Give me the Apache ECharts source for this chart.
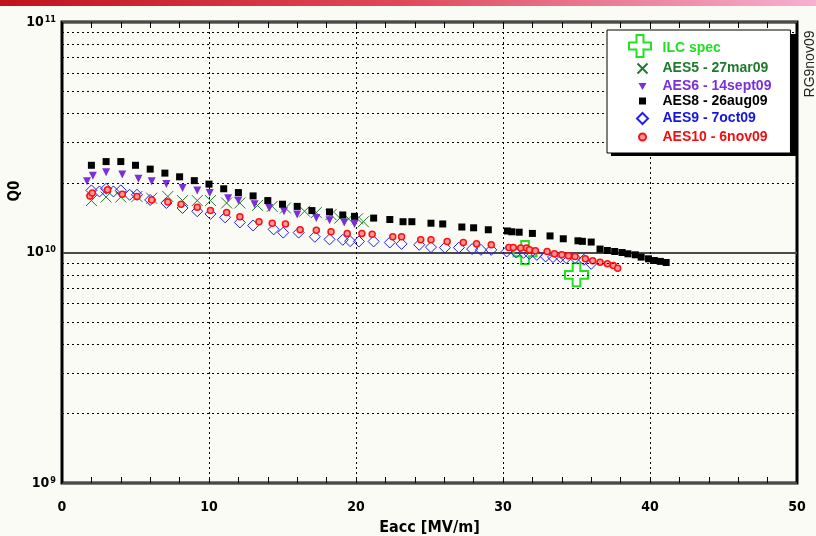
<!DOCTYPE html>
<html><head><meta charset="utf-8">
<script src="https://cdn.jsdelivr.net/npm/echarts@6/dist/echarts.min.js"></script>
<style>html,body{margin:0;padding:0;background:#fbfbf6}#c{width:816px;height:536px}</style>
</head><body><div id="c"></div>
<script>
// ---- data (Q0 values in units of 1e10) ----
const UNIT = 1e10;
const ilcE = [31.5, 35.0];
const ilcQ = [1.0, 0.8];

const aes5E = [2.0,3.0,4.0,5.1,6.1,7.2,8.2,9.2,10.1,11.2,12.1,13.3,14.3,15.2,16.5,17.3,18.3,18.9,19.5,20.1,20.5];
const aes5Q = [1.68,1.74,1.74,1.75,1.72,1.75,1.68,1.68,1.68,1.64,1.64,1.60,1.585,1.56,1.51,1.49,1.46,1.41,1.40,1.40,1.36];

const aes6E = [1.7,2.1,3.0,4.1,5.2,6.1,7.1,8.2,9.2,10.05,11.3,12.0,13.1,14.1,15.1,16.0,17.3,18.2,19.2,19.9];
const aes6Q = [2.04,2.15,2.23,2.18,2.09,2.04,1.98,1.905,1.86,1.81,1.72,1.68,1.62,1.56,1.51,1.46,1.41,1.38,1.35,1.33];

const aes8E = [2,3,4,5,6,7,8,9,10,11,12,13,14,15,16,17,18.2,19.1,19.9,21.2,22.3,23.2,23.8,25.1,25.9,27.2,28.0,29.0,30.3,30.6,31.1,32.0,33.2,34.1,35.1,35.4,36.0,36.6,37.1,37.6,38.1,38.5,39.0,39.4,39.9,40.3,40.7,41.1];
const aes8Q = [2.39,2.48,2.48,2.39,2.30,2.21,2.13,2.05,1.98,1.89,1.82,1.76,1.68,1.62,1.585,1.52,1.50,1.455,1.435,1.41,1.39,1.36,1.36,1.34,1.33,1.29,1.28,1.255,1.24,1.23,1.225,1.21,1.18,1.147,1.124,1.118,1.11,1.035,1.02,1.01,1.0,0.987,0.977,0.955,0.939,0.923,0.915,0.905];

const aes9E = [2.0,2.55,3.0,3.5,4.0,4.6,5.1,6.0,7.1,8.2,9.2,10.1,11.1,12.1,13.0,14.4,15.05,16.1,17.2,18.2,19.1,19.6,20.2,21.2,22.3,23.1,24.3,25.1,26.05,27.0,27.9,28.5,29.2,30.25,30.9,31.4,31.8,32.3,32.9,33.4,33.9,34.3,34.9,35.5,36.0];
const aes9Q = [1.86,1.84,1.89,1.84,1.86,1.78,1.78,1.69,1.64,1.56,1.51,1.47,1.42,1.35,1.31,1.26,1.22,1.22,1.17,1.14,1.135,1.12,1.117,1.117,1.105,1.09,1.08,1.055,1.05,1.05,1.035,1.027,1.027,1.01,1.0,0.997,0.987,0.977,0.961,0.955,0.955,0.946,0.946,0.93,0.893];

const aes10E = [1.9,2.06,3.1,4.1,5.1,6.1,7.2,8.1,9.2,10.1,11.2,12.1,13.4,14.3,15.2,16.2,17.3,18.3,19.4,20.4,21.1,22.5,23.1,24.4,25.1,26.2,27.3,28.2,29.2,30.4,30.7,31.2,31.6,31.8,32.2,33.0,33.5,34.0,34.45,34.9,35.6,36.1,36.6,37.1,37.5,37.8];
const aes10Q = [1.76,1.81,1.87,1.79,1.75,1.69,1.655,1.62,1.57,1.52,1.49,1.43,1.36,1.34,1.33,1.255,1.25,1.23,1.21,1.21,1.20,1.17,1.17,1.135,1.135,1.117,1.105,1.09,1.08,1.05,1.05,1.045,1.045,1.027,1.017,1.01,0.987,0.977,0.967,0.961,0.939,0.92,0.908,0.893,0.878,0.855];

const legendNames = ['ILC spec','AES5 - 27mar09','AES6 - 14sept09','AES8 - 26aug09','AES9 - 7oct09','AES10 - 6nov09'];
const legendColors = ['#22e022','#1f7a2e','#7a30d8','#000000','#1515e0','#f01010'];

const xMin = 0, xMax = 50, xStep = 10;
const yMin = 1e9, yMax = 1e11;
const yMinorGrid = [2e9,3e9,4e9,5e9,6e9,7e9,8e9,9e9,2e10,3e10,4e10,5e10,6e10,7e10,8e10,9e10];

// ---- symbols ----
const SYM_CROSS = 'path://M8,0H16V8H24V16H16V24H8V16H0V8H8Z';
const SYM_X = 'path://M0,0L10,10M10,0L0,10';
const SYM_TRI = 'path://M0,0L10,0L5,9Z';
// legend icons padded to a 14x14 box so they keep their small size
const LEG_ICONS = [
  'path://M0,0M14,14M6.9,6.9L7.1,7.1',
  'path://M0,0M14,14M2,2L12,12M12,2L2,12',
  'path://M0,0M14,14M3,4H11L7,11Z',
  'path://M0,0M14,14M3.5,3.5H10.5V10.5H3.5Z',
  'path://M0,0M14,14M7,1.5L12.5,7L7,12.5L1.5,7Z',
  'path://M0,0M14,14M10.5,7A3.5,3.5,0,1,1,3.5,7A3.5,3.5,0,1,1,10.5,7Z'
];

// ---- chart ----
const pairs = (E, Q) => E.map((e, i) => [e, Q[i] * UNIT]);
const narrow = "'Liberation Sans Narrow','Arial Narrow','DejaVu Sans Condensed','Liberation Sans',sans-serif";
const sans = "'Liberation Sans',Arial,sans-serif";

const legLeft = 607, legTop = 30;
const crossPts = [[7.5,0],[14.5,0],[14.5,7.5],[22,7.5],[22,14.5],[14.5,14.5],[14.5,22],[7.5,22],[7.5,14.5],[0,14.5],[0,7.5],[7.5,7.5]];

const chart = echarts.init(document.getElementById('c'), null, {renderer: 'canvas'});
chart.setOption({
  animation: false,
  backgroundColor: '#fbfbf6',
  grid: {left: 62, right: 19, top: 22, bottom: 53, outerBoundsMode: 'none', containLabel: false,
         show: true, borderColor: '#000', borderWidth: 3, backgroundColor: 'transparent'},
  xAxis: [{
    type: 'value', min: xMin, max: xMax, interval: xStep, position: 'bottom',
    axisLine: {show: false},
    axisTick: {show: true, inside: true, length: 6, lineStyle: {color: '#000', width: 1}},
    minorTick: {show: true, splitNumber: 5, length: 6, lineStyle: {color: '#000', width: 1}},
    splitLine: {show: true, lineStyle: {color: '#000', width: 1, type: [2, 3]}},
    axisLabel: {margin: 17, color: '#000', fontSize: 14, fontWeight: 'bold', fontFamily: narrow},
    name: 'Eacc [MV/m]', nameLocation: 'middle', nameGap: 37,
    nameTextStyle: {color: '#000', fontSize: 16, fontWeight: 'bold', fontFamily: narrow}
  }, {
    type: 'value', min: xMin, max: xMax, interval: xStep, position: 'top',
    axisLine: {show: false},
    axisTick: {show: true, inside: true, length: 6, lineStyle: {color: '#000', width: 1}},
    minorTick: {show: true, splitNumber: 5, length: 6, lineStyle: {color: '#000', width: 1}},
    splitLine: {show: false},
    axisLabel: {show: false}
  }],
  yAxis: {
    type: 'log', logBase: 10, min: yMin, max: yMax,
    axisLine: {show: false}, axisTick: {show: false},
    splitLine: {show: true, lineStyle: {color: '#4a4a4a', width: 2}},
    axisLabel: {
      margin: 6, color: '#000',
      formatter: v => '{b|10}{s|' + Math.round(Math.log10(v)) + '}',
      rich: {
        b: {fontSize: 14, fontWeight: 'bold', fontFamily: narrow, color: '#000'},
        s: {fontSize: 9, fontWeight: 'bold', fontFamily: narrow, color: '#000', verticalAlign: 'top', padding: [0, 0, 0, 1]}
      }
    }
  },
  legend: {
    orient: 'vertical', left: legLeft, top: legTop, padding: [9, 19, 8, 26], itemGap: 1,
    itemWidth: 14, itemHeight: 14, zlevel: 1, z: 5,
    backgroundColor: '#ffffff', borderColor: '#000', borderWidth: 1,
    textStyle: {fontSize: 14, fontWeight: 'bold', fontFamily: sans, padding: [0, 0, 0, 8]},
    data: legendNames.map((n, i) => ({name: n, icon: LEG_ICONS[i], textStyle: {color: legendColors[i]}}))
  },
  graphic: [
    {type: 'rect', left: 0, top: 0, shape: {width: 816, height: 6}, silent: true,
     style: {fill: new echarts.graphic.LinearGradient(0, 0, 1, 0, [
       {offset: 0, color: '#c0121c'}, {offset: 0.5, color: '#df4b5c'}, {offset: 1, color: '#f6b0d2'}])}},
    {type: 'rect', x: legLeft + 4, y: legTop + 4, shape: {width: 186, height: 122}, silent: true, zlevel: 1, z: 4,
     style: {fill: '#000'}},
    {type: 'polygon', x: 629, y: 35, zlevel: 1, z: 20, silent: true,
     shape: {points: crossPts},
     style: {fill: 'none', stroke: '#22e022', lineWidth: 2}},
    {type: 'text', x: 15, y: 191, rotation: Math.PI / 2, silent: true,
     style: {text: 'Q0', fill: '#000', font: 'bold 15px ' + narrow, align: 'center', verticalAlign: 'middle'}},
    {type: 'text', x: 810, y: 64, rotation: Math.PI / 2, silent: true,
     style: {text: 'RG9nov09', fill: '#222', font: '14px ' + sans, align: 'center', verticalAlign: 'middle'}}
  ],
  series: [
    {type: 'scatter', name: '_grid', data: [], silent: true, z: 1,
     markLine: {silent: true, symbol: 'none', label: {show: false}, animation: false,
       lineStyle: {color: '#000', width: 1, type: [2, 3]},
       data: yMinorGrid.map(v => ({yAxis: v}))}},
    {type: 'scatter', name: legendNames[0], data: pairs(ilcE, ilcQ), z: 3,
     symbol: SYM_CROSS, symbolSize: 23,
     itemStyle: {color: 'none', borderColor: '#22e022', borderWidth: 2, opacity: 1}},
    {type: 'scatter', name: legendNames[1], data: pairs(aes5E, aes5Q), z: 3,
     symbol: SYM_X, symbolSize: 11,
     itemStyle: {color: 'none', borderColor: '#1f7a2e', borderWidth: 1, opacity: 1}},
    {type: 'scatter', name: legendNames[2], data: pairs(aes6E, aes6Q), z: 3,
     symbol: SYM_TRI, symbolSize: 8,
     itemStyle: {color: '#7a30d8', opacity: 1}},
    {type: 'scatter', name: legendNames[3], data: pairs(aes8E, aes8Q), z: 3,
     symbol: 'rect', symbolSize: 7,
     itemStyle: {color: '#000', opacity: 1}},
    {type: 'scatter', name: legendNames[4], data: pairs(aes9E, aes9Q), z: 3,
     symbol: 'diamond', symbolSize: 11,
     itemStyle: {color: 'none', borderColor: '#2020ee', borderWidth: 1, opacity: 1}},
    {type: 'scatter', name: legendNames[5], data: pairs(aes10E, aes10Q), z: 4,
     symbol: 'circle', symbolSize: 6,
     itemStyle: {color: '#ff9a9a', borderColor: '#ff1010', borderWidth: 1.5, opacity: 1}}
  ]
});
</script>
</body></html>
